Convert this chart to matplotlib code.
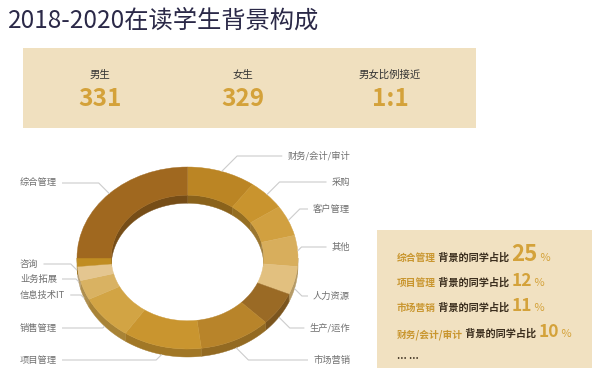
import numpy as np
import matplotlib
matplotlib.use("Agg")
import matplotlib.pyplot as plt
from matplotlib.patches import Wedge, Polygon, Rectangle
from matplotlib.transforms import Affine2D
from matplotlib.colors import to_rgb

plt.rcParams["font.family"] = ["Noto Sans CJK SC", "DejaVu Sans"]

# ---- data ----
TITLE = "2018-2020在读学生背景构成"
gender_labels = ["男生", "女生", "男女比例接近"]
gender_values = ["331", "329", "1:1"]

segments = ["财务/会计/审计", "采购", "客户管理", "其他", "人力资源", "生产/运作", "市场营销",
            "项目管理", "销售管理", "信息技术IT", "业务拓展", "咨询", "综合管理"]
shares = [10, 5.5, 5.5, 5.5, 5, 6, 10.5, 11.5, 8, 3.5, 2.5, 1.5, 25]
seg_colors = ["#bb8524", "#c9942e", "#d1a040", "#d8ae5c", "#e2c07f", "#9a6a25", "#b8842a",
              "#c9952f", "#d2a444", "#d9b262", "#e4c690", "#c08d22", "#a0681f"]

top_names = ["综合管理", "项目管理", "市场营销", "财务/会计/审计"]
top_pct = ["25", "12", "11", "10"]

# ---- layout ----
W, H = 600, 383
GOLD = "#d4a23a"; GOLD2 = "#c9962f"; DARK = "#3b2e1e"; BEIGE = "#f0e0bf"; NAVY = "#2b2948"
CX, CY, A, B, RIN, TH = 187.5, 258, 110.5, 91, 0.69, 8
label_y = [156, 182, 209, 247, 296, 328, 360, 360, 328, 295, 279, 264, 183]
label_side = ["R"] * 7 + ["L"] * 6

fig = plt.figure(figsize=(W / 100, H / 100), dpi=100)
ax = fig.add_axes([0, 0, 1, 1])
ax.set_xlim(0, W); ax.set_ylim(H, 0); ax.axis("off")
R = fig.canvas.get_renderer()


def width_of(t):
    return t.get_window_extent(R).width


ax.text(8, 21, TITLE, fontsize=17.5, color=NAVY, va="center", ha="left")

# top stats box
ax.add_patch(Rectangle((23, 48), 453, 80, color=BEIGE, lw=0))
for x, lab, val in zip([100, 243, 390], gender_labels, gender_values):
    ax.text(x, 75, lab, fontsize=7.5, color="#333333", ha="center", va="center")
    ax.text(x, 99, val, fontsize=17.5, color=GOLD, ha="center", va="center", fontweight="bold")

# ---- donut ----
def darker(c, f=0.8):
    return tuple(v * f for v in to_rgb(c))


def ell(t, r, dy=0):
    t = np.radians(t)
    return np.c_[CX + A * r * np.cos(t), CY - B * r * np.sin(t) + dy]


fr = np.array(shares) / sum(shares)
starts = 90 - 360 * np.r_[0, np.cumsum(fr)[:-1]]
ends = starts - 360 * fr
tf = Affine2D().scale(A, -B).translate(CX, CY) + ax.transData

for s, e, c in zip(starts, ends, seg_colors):
    # outer wall, front half
    lo, hi = max(e, -180), min(s, 0)
    if hi > lo:
        t = np.linspace(lo, hi, 60)
        pts = np.r_[ell(t, 1), ell(t[::-1], 1, TH)]
        ax.add_patch(Polygon(pts, closed=True, fc=darker(c), ec=darker(c), lw=0.3))
    # inner wall, back half
    for lo, hi in ((max(e, 0), min(s, 90)), (max(e, -270), min(s, -180))):
        if hi > lo:
            t = np.linspace(lo, hi, 60)
            pts = np.r_[ell(t, RIN), ell(t[::-1], RIN, TH)]
            ax.add_patch(Polygon(pts, closed=True, fc=darker(c, 0.74), ec=darker(c, 0.74), lw=0.3))

for s, e, c in zip(starts, ends, seg_colors):
    ax.add_patch(Wedge((0, 0), 1, e, s, width=1 - RIN, fc=c, ec=c, lw=0.3, transform=tf))

# labels + leader lines
LINE = "#cccccc"
for name, s, e, ly, side in zip(segments, starts, ends, label_y, label_side):
    mid = (s + e) / 2
    ax_, ay_ = ell([mid], 1)[0]
    if np.sin(np.radians(mid)) < 0:
        ay_ += TH
    dy = ly - ay_
    if side == "R":
        t = ax.text(350, ly, name, fontsize=6.7, color="#707070", ha="right", va="center")
        x0 = 350 - width_of(t) - 5
        ex = ax_ + abs(dy)
    else:
        t = ax.text(20, ly, name, fontsize=6.7, color="#707070", ha="left", va="center")
        x0 = 20 + width_of(t) + 5
        ex = ax_ - abs(dy)
    ax.plot([x0, ex, ax_], [ly, ly, ay_], color=LINE, lw=0.8, solid_capstyle="butt")

# ---- right summary box ----
ax.add_patch(Rectangle((377, 230), 215, 138, color="#f1e1c1", lw=0))


def row(y, name, pct, big):
    x = 397
    for txt, size, col, wt in ((name, 7, GOLD2, "bold"), (" 背景的同学占比 ", 7.3, DARK, "bold"),
                               (pct, 16 if big else 12.5, GOLD, "bold"), (" %", 8, GOLD, "normal")):
        t = ax.text(x, y, txt, fontsize=size, color=col, ha="left", va="baseline", fontweight=wt)
        x += width_of(t)


for y, n, p in zip([261, 286, 311, 337], top_names, top_pct):
    row(y, n, p, p == top_pct[0])
ax.text(397, 356, "... ...", fontsize=7, color=DARK, ha="left", va="center", fontweight="bold")

fig.savefig("out.png", dpi=100, facecolor="white")
